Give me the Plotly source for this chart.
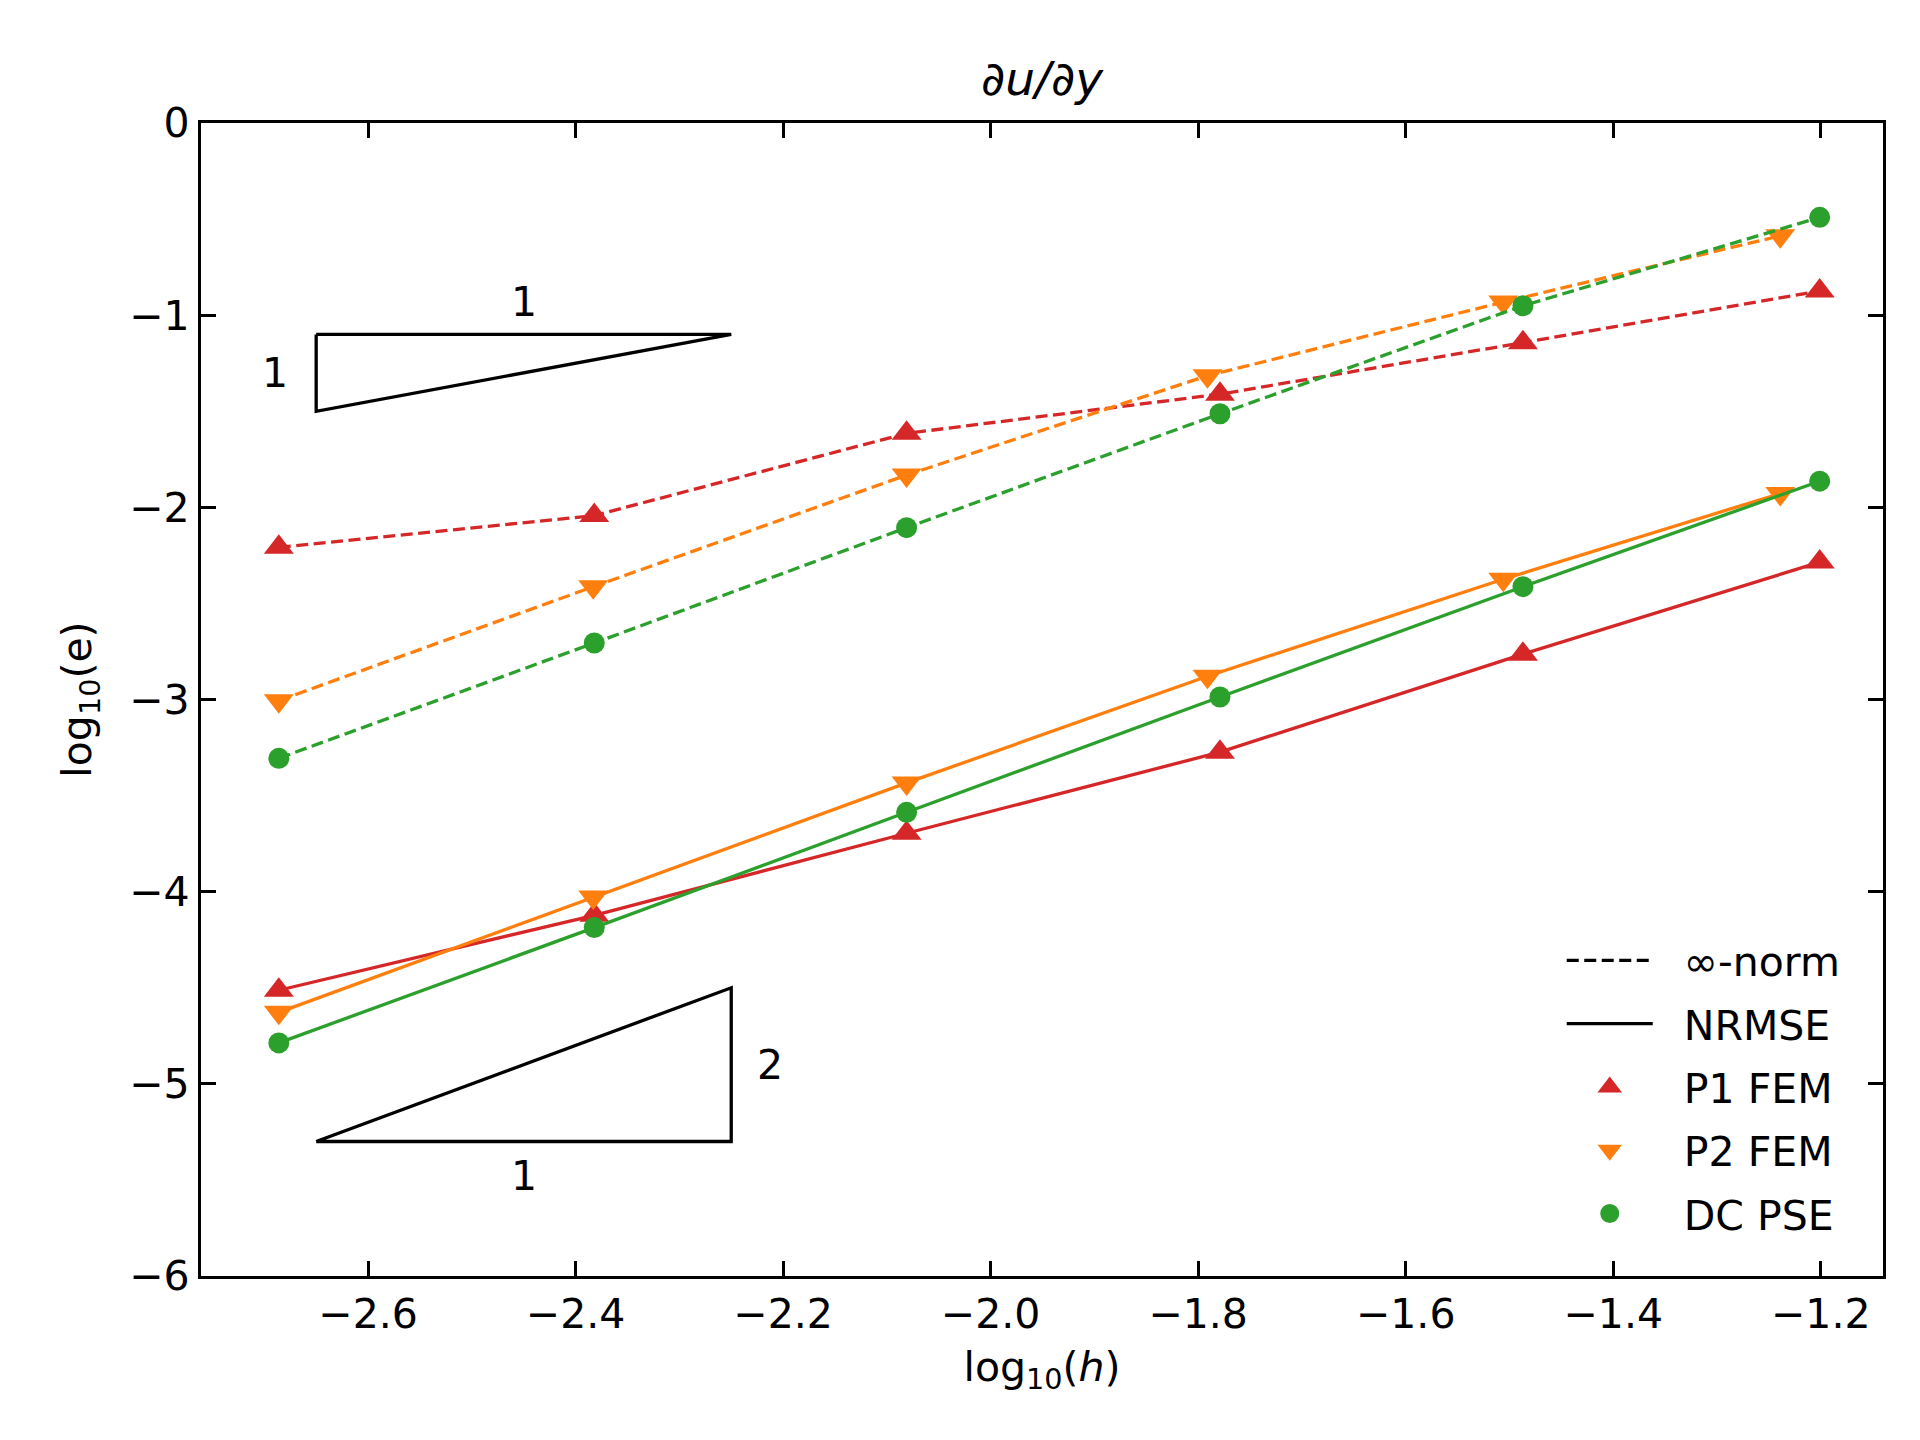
import plotly.graph_objects as go

# log10(h) for each refinement level
h_p1 = [-2.686, -2.382, -2.081, -1.779, -1.487, -1.201]
h_p2 = [-2.686, -2.383, -2.081, -1.791, -1.506, -1.239]
h_dc = [-2.686, -2.382, -2.081, -1.779, -1.487, -1.201]

# log10(e), infinity norm (dashed)
inf_p1 = [-2.208, -2.043, -1.615, -1.411, -1.143, -0.874]
inf_p2 = [-3.006, -2.413, -1.832, -1.315, -0.932, -0.587]
inf_dc = [-3.306, -2.706, -2.106, -1.513, -0.951, -0.491]

# log10(e), NRMSE (solid)
rms_p1 = [-4.513, -4.123, -3.696, -3.274, -2.764, -2.285]
rms_p2 = [-4.628, -4.028, -3.434, -2.879, -2.374, -1.928]
rms_dc = [-4.787, -4.187, -3.587, -2.987, -2.413, -1.864]

# slope triangles
tri1_x = [-2.65, -2.25, -2.65, -2.65]
tri1_y = [-1.1, -1.1, -1.5, -1.1]
tri2_x = [-2.65, -2.25, -2.25, -2.65]
tri2_y = [-5.3, -5.3, -4.5, -5.3]

red = '#d62728'
orange = '#ff7f0e'
green = '#2ca02c'
font = 'DejaVu Sans'
dash = '12px,5.5px'
lw = 3.3

series = [
    ('P1 FEM', h_p1, inf_p1, rms_p1, red, 'triangle-up', 26),
    ('P2 FEM', h_p2, inf_p2, rms_p2, orange, 'triangle-down', 26),
    ('DC PSE', h_dc, inf_dc, rms_dc, green, 'circle', 21),
]

fig = go.Figure()

for name, hx, e_inf, e_rms, col, sym, ms in series:
    fig.add_trace(go.Scatter(x=hx, y=e_inf, mode='lines+markers', showlegend=False,
                             line=dict(color=col, width=lw, dash=dash),
                             marker=dict(symbol=sym, size=ms, color=col)))
    fig.add_trace(go.Scatter(x=hx, y=e_rms, mode='lines+markers', showlegend=False,
                             line=dict(color=col, width=lw),
                             marker=dict(symbol=sym, size=ms, color=col)))

for tx, ty in [(tri1_x, tri1_y), (tri2_x, tri2_y)]:
    fig.add_trace(go.Scatter(x=tx, y=ty, mode='lines', showlegend=False,
                             line=dict(color='black', width=lw)))

# legend entries
pad = '\u00a0\u00a0'
fig.add_trace(go.Scatter(x=[None], y=[None], mode='lines', name=pad + '∞-norm', legendgroup='a',
                         line=dict(color='black', width=lw, dash=dash)))
fig.add_trace(go.Scatter(x=[None], y=[None], mode='lines', name=pad + 'NRMSE', legendgroup='b',
                         line=dict(color='black', width=lw)))
for name, hx, e_inf, e_rms, col, sym, ms in series:
    # legend markers are capped in size, a same-colour outline makes them bigger
    fig.add_trace(go.Scatter(x=[None], y=[None], mode='markers', name=pad + name, legendgroup=name,
                             marker=dict(symbol=sym, size=ms, color=col,
                                         line=dict(color=col, width=3))))

labels = [(-2.45, -0.93, '1'), (-2.69, -1.3, '1'), (-2.213, -4.9, '2'), (-2.45, -5.48, '1')]
for lx, ly, txt in labels:
    fig.add_annotation(x=lx, y=ly, text=txt, showarrow=False,
                       font=dict(family=font, size=41, color='black'))

axis_style = dict(showline=True, linecolor='black', linewidth=3.3, mirror='ticks',
                  ticks='inside', ticklen=15, tickwidth=3.3, tickcolor='black',
                  showgrid=False, zeroline=False,
                  tickfont=dict(family=font, size=41, color='black'))

fig.update_layout(
    width=1920, height=1440,
    margin=dict(l=193, r=45, t=115, b=172),
    plot_bgcolor='white', paper_bgcolor='white',
    title=dict(text='<i>∂u/∂y</i>', x=0.5, xref='paper', xanchor='center', y=0.951, yanchor='middle',
               font=dict(family=font, size=47, color='black')),
    xaxis=dict(range=[-2.761, -1.140], tickvals=[-2.6, -2.4, -2.2, -2.0, -1.8, -1.6, -1.4, -1.2],
               tickformat='.1f',
               title=dict(text='log<sub>10</sub>(<i>h</i>)', font=dict(family=font, size=41, color='black'),
                          standoff=15),
               **axis_style),
    yaxis=dict(range=[-6, 0], tickvals=[0, -1, -2, -3, -4, -5, -6],
               title=dict(text='log<sub>10</sub>(e)', font=dict(family=font, size=41, color='black'),
                          standoff=25),
               **axis_style),
    legend=dict(x=0.809, y=0.025, xanchor='left', yanchor='bottom', bgcolor='rgba(0,0,0,0)',
                font=dict(family=font, size=41, color='black'), itemwidth=86,
                tracegroupgap=7),
)

fig.write_html("out.html")
